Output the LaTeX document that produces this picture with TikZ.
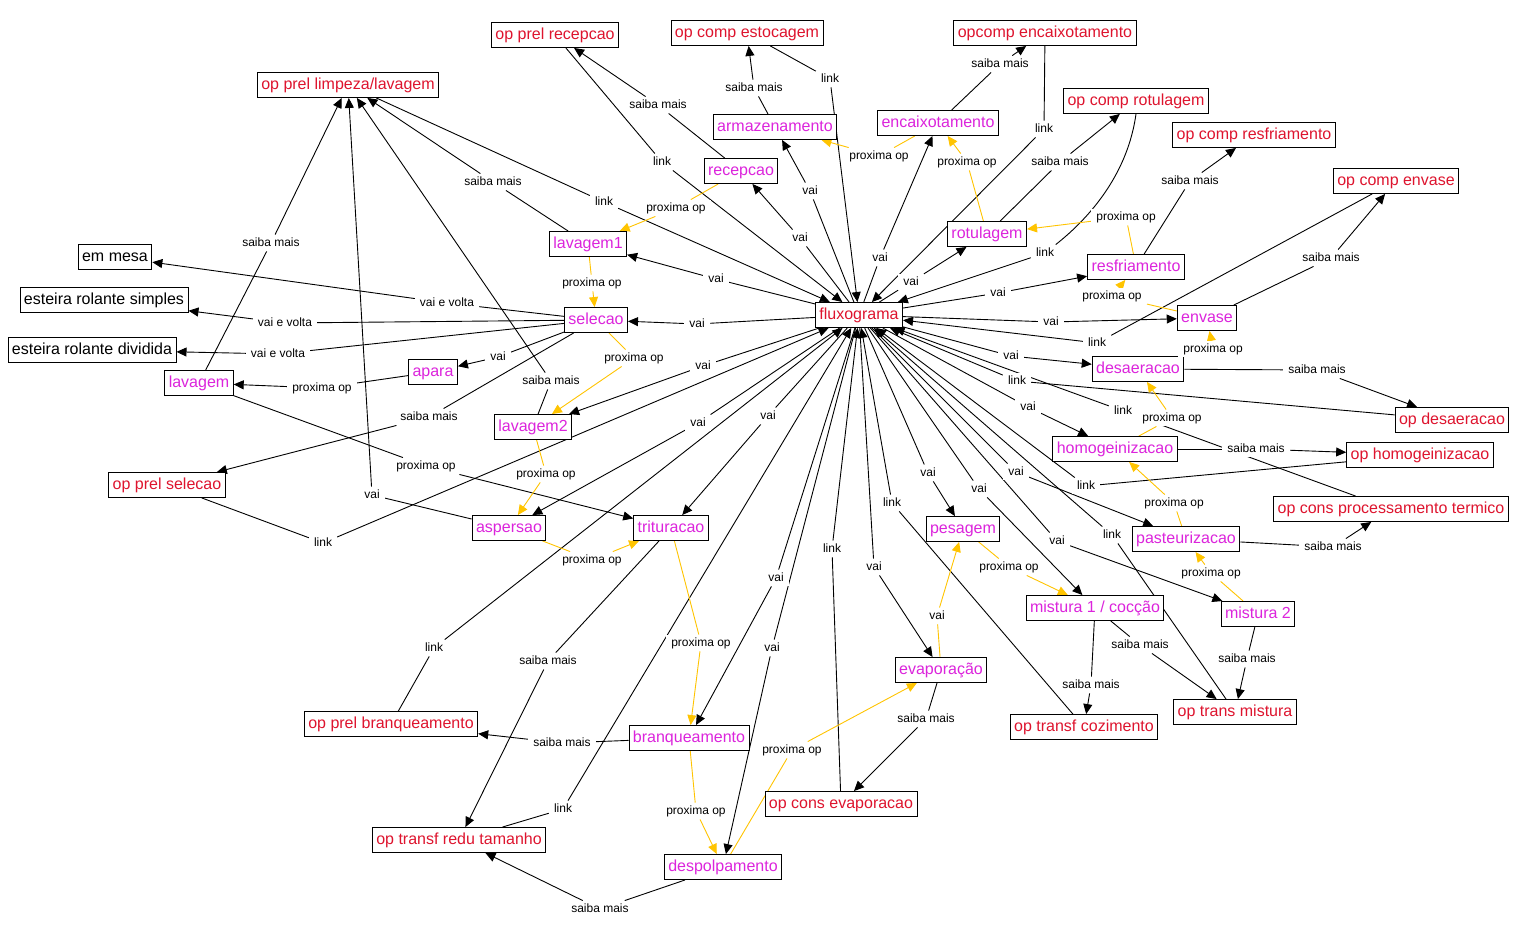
\documentclass[tikz,border=0pt]{standalone}
\usepackage{fontspec}
\setmainfont{Liberation Sans}
\usetikzlibrary{arrows.meta,backgrounds}
\definecolor{rubro}{RGB}{222,20,46}
\definecolor{roxo}{RGB}{220,36,220}
\definecolor{ouro}{RGB}{255,196,0}
\tikzset{
  >={Triangle[length=10pt,width=9pt]},
  conc/.style={draw,fill=white,text=#1,line width=0.9pt,font=\fontsize{16}{19}\selectfont,
    minimum height=25pt,inner xsep=4pt,inner ysep=0pt,text height=12pt,text depth=3.5pt},
  conc/.default=black,
  lbl/.style={fill=white,font=\fontsize{12}{14}\selectfont,inner xsep=5pt,inner ysep=2.5pt,
    text height=9pt,text depth=2.5pt},
  cn/.style={draw,color=#1,line width=0.9pt},
  cn/.default=black,
}

\begin{document}
\begin{tikzpicture}[x=1pt,y=-1pt]
\useasboundingbox (0,0) rectangle (1521,940);
% conceito central
\node[conc=rubro] (flux) at (859,315) {fluxograma};
% etapas do processo
\foreach \n/\x/\y/\txt in {armaz/775/127/armazenamento, encaix/938/123/encaixotamento,
    recep/741/171/recepcao, rotul/987/234/rotulagem, lav1/588/244/lavagem1,
    resfr/1136/267/resfriamento, selec/596/320/selecao, envase/1207/318/envase,
    apara/433/372/apara, lavagem/199/383/lavagem, desaer/1138/369/desaeracao,
    lav2/533/427/lavagem2, homog/1115/449/homogeinizacao, aspers/509/528/aspersao,
    tritur/671/528/trituracao, pesag/963/529/pesagem, pasteur/1186/539/pasteurizacao,
    mist1/1095/608/{mistura 1 / cocção}, mist2/1258/614/mistura 2,
    evap/941/670/evaporação, branq/689/738/branqueamento, despolp/723/867/despolpamento}
  \node[conc=roxo] (\n) at (\x,\y) {\txt};
% operacoes
\foreach \n/\x/\y/\txt in {oprecep/555/35/op prel recepcao, opestoc/747/33/op comp estocagem,
    opencaix/1045/33/opcomp encaixotamento, oplimp/348/85/{op prel limpeza/lavagem},
    oprotul/1136/101/op comp rotulagem, opresfr/1254/135/op comp resfriamento,
    openvase/1396/181/op comp envase, opdesaer/1452/420/op desaeracao,
    ophomog/1420/455/op homogeinizacao, optermico/1391/509/op cons processamento termico,
    opselec/167/485/op prel selecao, opbranq/391/724/op prel branqueamento,
    opredu/459/840/op transf redu tamanho, opevap/841/804/op cons evaporacao,
    opcoz/1084/727/op transf cozimento, opmist/1235/712/op trans mistura}
  \node[conc=rubro] (\n) at (\x,\y) {\txt};
% tipos de selecao
\node[conc] (mesa) at (115,257) {em mesa};
\node[conc] (esimples) at (104,300) {esteira rolante simples};
\node[conc] (edividida) at (92,350) {esteira rolante dividida};

% rotulos das ligacoes
\foreach \n/\x/\y in {v1/716/279, v2/697/324, v3/703/366, v4/698/423, v5/768/416,
    v6/776/578, v7/772/648, v8/874/567, v9/928/473, v10/979/489, v11/1057/541,
    v12/1016/472, v13/1028/407, v14/1011/356, v15/1051/322, v16/998/293, v17/911/282,
    v18/880/258, v19/810/191, v20/800/238, v21/372/495, v22/498/357, v23/937/616}
  \node[lbl] (\n) at (\x,\y) {vai};
\foreach \n/\x/\y in {k1/604/202, k2/662/162, k3/830/79, k4/1044/129, k5/1045/253,
    k6/1097/343, k7/1017/381, k8/1123/411, k9/1086/486, k10/1112/535, k11/892/503,
    k12/832/549, k13/563/809, k14/434/648, k15/323/543}
  \node[lbl] (\n) at (\x,\y) {link};
\foreach \n/\x/\y in {s1/271/243, s2/493/182, s3/551/381, s4/658/105, s5/754/88,
    s6/1000/64, s7/1060/162, s8/1190/181, s9/1331/258, s10/1317/370, s11/1256/449,
    s12/1333/547, s13/1140/645, s14/1247/659, s15/1091/685, s16/926/719, s17/562/743,
    s18/548/661, s19/600/909, s20/429/417}
  \node[lbl] (\n) at (\x,\y) {saiba mais};
\foreach \n/\x/\y in {w1/447/303, w2/285/323, w3/278/354}
  \node[lbl] (\n) at (\x,\y) {vai e volta};
\foreach \n/\x/\y in {p1/676/208, p2/592/283, p3/634/358, p4/546/474, p5/592/560,
    p6/701/643, p7/696/811, p8/792/750, p9/1009/567, p10/1211/573, p11/1174/503,
    p12/1172/418, p13/1213/349, p14/1112/296, p15/1126/217, p16/967/162, p17/879/156,
    p18/322/388, p19/426/466}
  \node[lbl] (\n) at (\x,\y) {proxima op};

\begin{scope}[on background layer]
  \fill[white] (0,0) rectangle (1521,940);
  % ligacoes pretas
  \foreach \a/\l/\b in {flux/v1/lav1, flux/v2/selec, flux/v3/lav2, flux/v4/aspers,
      flux/v5/tritur, flux/v6/branq, flux/v7/despolp, flux/v8/evap, flux/v9/pesag,
      flux/v10/mist1, flux/v11/mist2, flux/v12/pasteur, flux/v13/homog, flux/v14/desaer,
      flux/v15/envase, flux/v16/resfr, flux/v17/rotul, flux/v18/encaix, flux/v19/armaz,
      flux/v20/recep, aspers/v21/oplimp, selec/v22/apara,
      oplimp/k1/flux, oprecep/k2/flux, opestoc/k3/flux, opencaix/k4/flux,
      openvase/k6/flux, opdesaer/k7/flux, optermico/k8/flux, ophomog/k9/flux,
      opmist/k10/flux, opcoz/k11/flux, opevap/k12/flux, opredu/k13/flux,
      opbranq/k14/flux, opselec/k15/flux,
      lavagem/s1/oplimp, lav1/s2/oplimp, lav2/s3/oplimp, recep/s4/oprecep,
      armaz/s5/opestoc, encaix/s6/opencaix, rotul/s7/oprotul, resfr/s8/opresfr,
      envase/s9/openvase, desaer/s10/opdesaer, homog/s11/ophomog, pasteur/s12/optermico,
      mist1/s13/opmist, mist2/s14/opmist, mist1/s15/opcoz, evap/s16/opevap,
      branq/s17/opbranq, tritur/s18/opredu, despolp/s19/opredu, selec/s20/opselec,
      selec/w1/mesa, selec/w2/esimples, selec/w3/edividida,
      apara/p18/lavagem, lavagem/p19/tritur}
    \draw[cn] (\a) -- (\l) edge[->] (\b);
  \draw[cn] (oprotul.south) .. controls (1128,172) and (1092,216) .. (k5) edge[->] (flux);
  % sequencia das operacoes
  \foreach \a/\l/\b in {recep/p1/lav1, lav1/p2/selec, selec/p3/lav2, lav2/p4/aspers,
      aspers/p5/tritur, tritur/p6/branq, branq/p7/despolp, despolp/p8/evap,
      evap/v23/pesag, pesag/p9/mist1, mist2/p10/pasteur, pasteur/p11/homog,
      homog/p12/desaer, desaer/p13/envase, envase/p14/resfr, resfr/p15/rotul,
      rotul/p16/encaix, encaix/p17/armaz}
    \draw[cn=ouro] (\a) -- (\l) edge[->] (\b);
\end{scope}
\end{tikzpicture}
\end{document}
